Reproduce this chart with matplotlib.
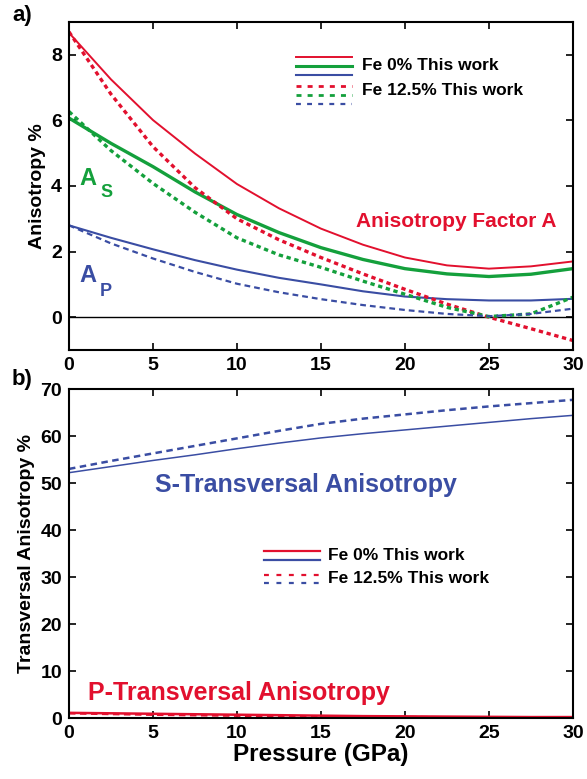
import matplotlib
matplotlib.use("Agg")
import matplotlib.pyplot as plt

plt.rcParams['font.family'] = ['Liberation Sans', 'DejaVu Sans']
plt.rcParams['font.weight'] = 'bold'
plt.rcParams['lines.solid_joinstyle'] = 'round'
plt.rcParams['lines.dash_joinstyle'] = 'round'

RED = '#E2102E'
GREEN = '#14A03C'
BLUE = '#3A4DA3'

# ---- data ----
pressure = [0, 2.5, 5, 7.5, 10, 12.5, 15, 17.5, 20, 22.5, 25, 27.5, 30]

A_fe0 = [8.67, 7.25, 6.01, 4.99, 4.06, 3.32, 2.70, 2.21, 1.82, 1.58, 1.48, 1.55, 1.70]
A_fe125 = [8.70, 6.80, 5.20, 3.95, 3.00, 2.36, 1.82, 1.32, 0.85, 0.40, 0.00, -0.35, -0.71]
AS_fe0 = [6.07, 5.30, 4.59, 3.82, 3.13, 2.58, 2.12, 1.76, 1.48, 1.32, 1.24, 1.31, 1.48]
AS_fe125 = [6.27, 5.08, 4.08, 3.20, 2.42, 1.90, 1.52, 1.10, 0.70, 0.30, 0.02, 0.10, 0.61]
AP_fe0 = [2.80, 2.42, 2.07, 1.74, 1.45, 1.20, 1.00, 0.79, 0.63, 0.55, 0.51, 0.51, 0.56]
AP_fe125 = [2.80, 2.25, 1.79, 1.38, 1.02, 0.76, 0.55, 0.37, 0.22, 0.10, 0.03, 0.10, 0.26]

ST_fe0 = [52.2, 53.5, 54.8, 56.0, 57.3, 58.5, 59.6, 60.5, 61.3, 62.1, 62.9, 63.7, 64.4]
ST_fe125 = [53.0, 54.7, 56.3, 57.9, 59.5, 61.1, 62.6, 63.7, 64.6, 65.5, 66.3, 67.0, 67.7]
PT_fe0 = [1.1, 1.0, 0.9, 0.8, 0.7, 0.6, 0.5, 0.4, 0.35, 0.3, 0.25, 0.2, 0.2]
PT_fe125 = [1.0, 0.85, 0.7, 0.6, 0.5, 0.4, 0.3, 0.25, 0.2, 0.15, 0.1, 0.1, 0.1]

xticks = [0, 5, 10, 15, 20, 25, 30]
yticks_a = [0, 2, 4, 6, 8]
yticks_b = [0, 10, 20, 30, 40, 50, 60, 70]

fig = plt.figure(figsize=(5.87, 7.79), dpi=100)
ax1 = fig.add_axes([0.1175, 0.5507, 0.8585, 0.4211])
ax2 = fig.add_axes([0.1175, 0.0783, 0.8585, 0.4223])

DOT = (1.3, 1.1)
DASH = (2.6, 1.8)

for ax in (ax1, ax2):
    ax.set_xlim(0, 30)
    ax.set_xticks(xticks)
    ax.tick_params(direction='in', length=5, width=1.2, top=True, right=True,
                   labelsize=14, pad=5)
    for s in ax.spines.values():
        s.set_linewidth(1.5)
    for lab in ax.get_xticklabels() + ax.get_yticklabels():
        lab.set_fontweight('bold')

# ---- panel a ----
ax1.set_ylim(-1, 9)
ax1.set_yticks(yticks_a)
ax1.axhline(0, color='black', lw=1.0)
ax1.plot(pressure, A_fe0, color=RED, lw=1.4)
ax1.plot(pressure, AS_fe0, color=GREEN, lw=2.4)
ax1.plot(pressure, AP_fe0, color=BLUE, lw=1.5)
ax1.plot(pressure, A_fe125, color=RED, lw=2.4, dashes=DOT)
ax1.plot(pressure, AS_fe125, color=GREEN, lw=2.4, dashes=DOT)
ax1.plot(pressure, AP_fe125, color=BLUE, lw=1.6, dashes=DASH)
ax1.set_ylabel('Anisotropy %', fontsize=14, fontweight='bold', labelpad=4)

# legend a (manual)
lx = [0.450, 0.561]
ax1.plot(lx, [0.893, 0.893], color=RED, lw=1.4, transform=ax1.transAxes)
ax1.plot(lx, [0.866, 0.866], color=GREEN, lw=2.2, transform=ax1.transAxes)
ax1.plot(lx, [0.838, 0.838], color=BLUE, lw=1.5, transform=ax1.transAxes)
ax1.plot(lx, [0.805, 0.805], color=RED, lw=2.0, dashes=(1.8, 2.2), transform=ax1.transAxes)
ax1.plot(lx, [0.777, 0.777], color=GREEN, lw=2.0, dashes=(1.8, 2.2), transform=ax1.transAxes)
ax1.plot(lx, [0.750, 0.750], color=BLUE, lw=1.6, dashes=(2.2, 2.8), transform=ax1.transAxes)
ax1.text(0.581, 0.866, 'Fe 0% This work', transform=ax1.transAxes, fontsize=12.5,
         fontweight='bold', va='center', ha='left')
ax1.text(0.581, 0.790, 'Fe 12.5% This work', transform=ax1.transAxes, fontsize=12.5,
         fontweight='bold', va='center', ha='left')

ax1.text(17.1, 2.74, 'Anisotropy Factor A', color=RED, fontsize=15, fontweight='bold',
         ha='left', va='baseline')
ax1.text(0.62, 4.03, 'A', color=GREEN, fontsize=17, fontweight='bold', ha='left', va='baseline')
ax1.text(1.85, 3.66, 'S', color=GREEN, fontsize=13, fontweight='bold', ha='left', va='baseline')
ax1.text(0.62, 1.06, 'A', color=BLUE, fontsize=17, fontweight='bold', ha='left', va='baseline')
ax1.text(1.85, 0.66, 'P', color=BLUE, fontsize=13, fontweight='bold', ha='left', va='baseline')

fig.text(12 / 587, 1 - 15 / 779, 'a)', fontsize=16, fontweight='bold', va='center', ha='left')
fig.text(12 / 587, 1 - 379 / 779, 'b)', fontsize=16, fontweight='bold', va='center', ha='left')

# ---- panel b ----
ax2.set_ylim(0, 70)
ax2.set_yticks(yticks_b)
ax2.plot(pressure, ST_fe0, color=BLUE, lw=1.1)
ax2.plot(pressure, ST_fe125, color=BLUE, lw=1.8, dashes=DASH)
ax2.plot(pressure, PT_fe0, color=RED, lw=1.8)
ax2.plot(pressure, PT_fe125, color=RED, lw=1.8, dashes=DASH)
ax2.set_ylabel('Transversal Anisotropy %', fontsize=14, fontweight='bold', labelpad=4)
ax2.set_xlabel('Pressure (GPa)', fontsize=17.5, fontweight='bold', labelpad=1)

lx2 = [0.387, 0.498]
ax2.plot(lx2, [0.508, 0.508], color=RED, lw=1.6, transform=ax2.transAxes)
ax2.plot(lx2, [0.480, 0.480], color=BLUE, lw=1.6, transform=ax2.transAxes)
ax2.plot(lx2, [0.435, 0.435], color=RED, lw=1.6, dashes=(2.2, 3.4), transform=ax2.transAxes)
ax2.plot(lx2, [0.410, 0.410], color=BLUE, lw=1.6, dashes=(2.2, 3.4), transform=ax2.transAxes)
ax2.text(0.514, 0.494, 'Fe 0% This work', transform=ax2.transAxes, fontsize=12.5,
         fontweight='bold', va='center', ha='left')
ax2.text(0.514, 0.424, 'Fe 12.5% This work', transform=ax2.transAxes, fontsize=12.5,
         fontweight='bold', va='center', ha='left')

ax2.text(5.1, 48.1, 'S-Transversal Anisotropy', color=BLUE, fontsize=18,
         fontweight='bold', ha='left', va='baseline')
ax2.text(1.13, 3.8, 'P-Transversal Anisotropy', color=RED, fontsize=18,
         fontweight='bold', ha='left', va='baseline')

fig.savefig('out.png', dpi=100)
